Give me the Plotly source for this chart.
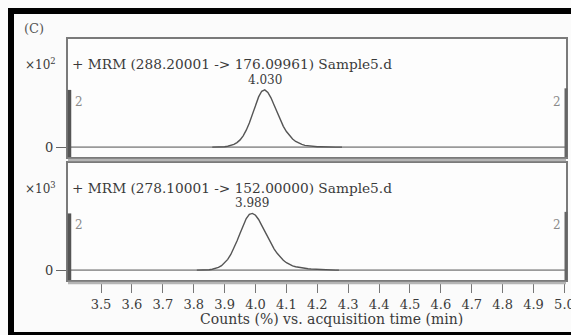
import plotly.graph_objects as go

# ---------------- data ----------------
t1 = [3.86, 3.87, 3.88, 3.89, 3.90, 3.91, 3.92, 3.93, 3.94, 3.95, 3.96, 3.97, 3.98, 3.99,
      4.00, 4.01, 4.02, 4.03, 4.04, 4.05, 4.06, 4.07, 4.08, 4.09, 4.10, 4.11, 4.12, 4.13,
      4.14, 4.15, 4.16, 4.17, 4.18, 4.19, 4.20, 4.21, 4.22, 4.23, 4.24, 4.25, 4.26, 4.27, 4.28]
y1 = [0.0, 0.0, 0.0, 0.01, 0.02, 0.04, 0.07, 0.12, 0.20, 0.32, 0.50, 0.75, 1.07, 1.45,
      1.85, 2.22, 2.47, 2.53, 2.42, 2.18, 1.86, 1.52, 1.20, 0.92, 0.69, 0.50, 0.36, 0.25,
      0.17, 0.12, 0.08, 0.06, 0.04, 0.03, 0.02, 0.02, 0.01, 0.01, 0.0, 0.0, 0.0, 0.0, 0.0]

t2 = [3.81, 3.82, 3.83, 3.84, 3.85, 3.86, 3.87, 3.88, 3.89, 3.90, 3.91, 3.92, 3.93, 3.94,
      3.95, 3.96, 3.97, 3.98, 3.99, 4.00, 4.01, 4.02, 4.03, 4.04, 4.05, 4.06, 4.07, 4.08,
      4.09, 4.10, 4.11, 4.12, 4.13, 4.14, 4.15, 4.16, 4.17, 4.18, 4.19, 4.20, 4.21, 4.22,
      4.23, 4.24, 4.25, 4.26, 4.27]
y2 = [0.0, 0.0, 0.0, 0.01, 0.02, 0.04, 0.07, 0.12, 0.20, 0.32, 0.48, 0.70, 0.97, 1.30,
      1.65, 2.00, 2.30, 2.49, 2.53, 2.45, 2.26, 2.00, 1.72, 1.44, 1.18, 0.95, 0.75, 0.58,
      0.44, 0.33, 0.25, 0.19, 0.15, 0.12, 0.10, 0.08, 0.06, 0.05, 0.04, 0.03, 0.02, 0.02,
      0.01, 0.01, 0.0, 0.0, 0.0]

peak_rt = [4.030, 3.989]
peak_h = [2.53, 2.53]
peak_labels = ["4.030", "3.989"]
titles = ["+ MRM (288.20001 -> 176.09961) Sample5.d",
          "+ MRM (278.10001 -> 152.00000) Sample5.d"]
multipliers = ["×10<sup>2</sup>", "×10<sup>3</sup>"]
x_ticks = [3.5, 3.6, 3.7, 3.8, 3.9, 4.0, 4.1, 4.2, 4.3, 4.4, 4.5, 4.6, 4.7, 4.8, 4.9, 5.0]
x_title = "Counts (%) vs. acquisition time (min)"
panel_label = "(C)"

FONT = "DejaVu Serif"
TXT = "#3a3a3a"
LINE = "#555555"
FRAME = "#7a7a7a"

X_RANGE = [3.393, 5.005]
Y_RANGE = [-0.44, 4.78]

fig = go.Figure()
fig.add_trace(go.Scatter(x=t1, y=y1, mode="lines", line=dict(color=LINE, width=1.4),
                         xaxis="x2", yaxis="y2", showlegend=False, hoverinfo="skip"))
fig.add_trace(go.Scatter(x=t2, y=y2, mode="lines", line=dict(color=LINE, width=1.4),
                         xaxis="x", yaxis="y", showlegend=False, hoverinfo="skip"))

ax_common = dict(showline=True, mirror=True, linecolor=FRAME, linewidth=2,
                 showgrid=False, zeroline=False, automargin=False)

fig.update_layout(
    width=571, height=335,
    margin=dict(l=68, r=5, t=39, b=55, autoexpand=False),
    paper_bgcolor="#fbfbfb", plot_bgcolor="#fdfdfd",
    font=dict(family=FONT, color=TXT, size=13),
    xaxis=dict(domain=[0, 1], range=X_RANGE, tickvals=x_ticks,
               ticktext=[f"{v:.1f}" for v in x_ticks],
               ticks="outside", ticklen=11, tickcolor="#777", tickwidth=1,
               ticklabeloverflow="allow",
               tickfont=dict(size=13, family=FONT, color=TXT),
               anchor="y", **ax_common),
    xaxis2=dict(domain=[0, 1], range=X_RANGE, matches="x", showticklabels=False,
                anchor="y2", **ax_common),
    yaxis=dict(domain=[0, 0.4855], range=Y_RANGE, tickvals=[0], ticktext=["0"],
               ticks="outside", ticklen=10, tickcolor="#666",
               tickfont=dict(size=13, family=FONT, color=TXT), anchor="x", **ax_common),
    yaxis2=dict(domain=[0.51, 1], range=Y_RANGE, tickvals=[0], ticktext=["0"],
                ticks="outside", ticklen=10, tickcolor="#666",
                tickfont=dict(size=13, family=FONT, color=TXT), anchor="x2", **ax_common),
)

shapes = []
annotations = []
for i, (xa, ya) in enumerate([("x2", "y2"), ("x", "y")]):
    shapes.append(dict(type="line", xref=f"{xa} domain", yref=ya, x0=0, x1=1, y0=0, y1=0,
                       line=dict(color="#9a9a9a", width=1.6), layer="below"))
    shapes.append(dict(type="line", xref=f"{xa} domain", yref=ya, x0=0.003, x1=0.003,
                       y0=Y_RANGE[0], y1=peak_h[i], line=dict(color="#555", width=3.5)))
    shapes.append(dict(type="line", xref=f"{xa} domain", yref=ya, x0=1, x1=1,
                       y0=Y_RANGE[0], y1=2.6, line=dict(color="#666", width=3)))
    shapes.append(dict(type="line", xref=f"{xa} domain", yref=f"{ya} domain", x0=0, x1=1,
                       y0=-0.025, y1=-0.025, line=dict(color="#b5b5b5", width=2.5)))
    annotations += [
        dict(text=titles[i], xref=f"{xa} domain", yref=f"{ya} domain", x=0.005, y=0.79,
             xanchor="left", yanchor="middle", showarrow=False,
             font=dict(size=13.7, family=FONT, color=TXT)),
        dict(text=peak_labels[i], xref=xa, yref=ya, x=peak_rt[i], y=peak_h[i],
             xanchor="center", yanchor="bottom", yshift=1, showarrow=False,
             font=dict(size=12, family=FONT, color=TXT)),
        dict(text="2", xref=f"{xa} domain", yref=ya, x=0.01, y=2, xanchor="left",
             yanchor="middle", showarrow=False, font=dict(size=12, family=FONT, color="#8a8a8a")),
        dict(text="2", xref=f"{xa} domain", yref=ya, x=0.994, y=2, xanchor="right",
             yanchor="middle", showarrow=False, font=dict(size=12, family=FONT, color="#8a8a8a")),
        dict(text=multipliers[i], xref="paper", yref=f"{ya} domain", x=-0.02, y=0.79,
             xanchor="right", yanchor="middle", showarrow=False,
             font=dict(size=12, family=FONT, color=TXT)),
    ]

px_x = lambda p: (p - 68) / 498
px_y = lambda p: (280 - p) / 241

annotations.append(dict(text=panel_label, xref="paper", yref="paper", x=-0.092, y=1.005,
                        xanchor="left", yanchor="bottom", showarrow=False,
                        font=dict(size=13, family=FONT, color="#555")))
annotations.append(dict(text=x_title, xref="paper", yref="paper", x=px_x(331), y=px_y(319),
                        xanchor="center", yanchor="middle", showarrow=False,
                        font=dict(size=14, family=FONT, color=TXT)))

shapes += [
    dict(type="rect", xref="paper", yref="paper", x0=px_x(8), x1=px_x(571), y0=px_y(14), y1=px_y(8),
         fillcolor="black", line=dict(width=0)),
    dict(type="rect", xref="paper", yref="paper", x0=px_x(8), x1=px_x(14), y0=px_y(335), y1=px_y(8),
         fillcolor="black", line=dict(width=0)),
    dict(type="rect", xref="paper", yref="paper", x0=px_x(8), x1=px_x(571), y0=px_y(335), y1=px_y(332),
         fillcolor="black", line=dict(width=0)),
]

fig.update_layout(shapes=shapes, annotations=annotations)
fig.write_html("out.html", config={"displayModeBar": False},
               post_script=("document.body.style.margin='0';"
                            "document.body.style.overflow='hidden';"
                            "document.documentElement.style.background='#fbfbfb';"
                            "document.body.style.background='#fbfbfb';"))
